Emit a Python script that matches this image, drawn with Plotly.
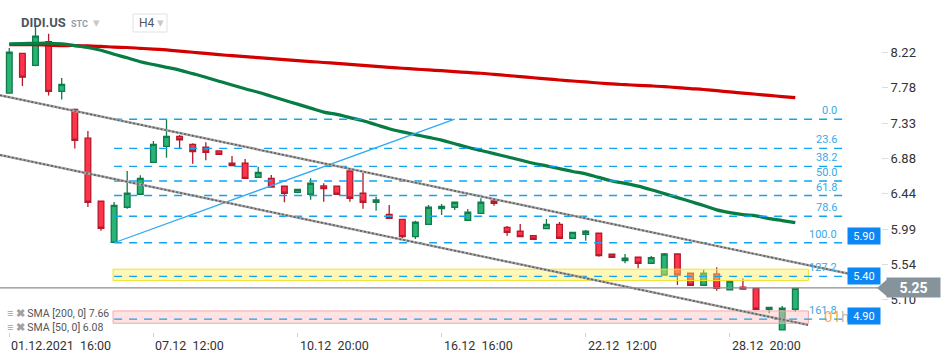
import plotly.graph_objects as go

# ---------------- data ----------------
days3 = ["02.12", "03.12", "06.12", "07.12", "08.12", "09.12", "10.12", "13.12", "14.12",
         "15.12", "16.12", "17.12", "20.12", "21.12", "22.12", "23.12", "27.12", "28.12", "29.12"]
times = ["01.12 16:00", "01.12 20:00"] + [f"{d} {h}" for d in days3 for h in ("12:00", "16:00", "20:00")] + ["30.12 12:00", "30.12 16:00"]

opens = [7.71, 8.21, 8.06, 8.36, 7.73, 7.505, 7.14, 6.344, 5.826, 6.268,
         6.432, 6.836, 7.038, 7.164, 7.063, 7.026, 6.979, 6.824, 6.824, 6.647,
         6.634, 6.533, 6.457, 6.432, 6.537, 6.533, 6.726, 6.445, 6.331, 6.179,
         6.116, 5.897, 6.053, 6.25, 6.268, 6.104, 6.192, 6.347, 6.015, 5.965,
         5.909, 5.998, 6.053, 5.877, 5.927, 5.94, 5.675, 5.594, 5.637, 5.561,
         5.413, 5.678, 5.435, 5.283, 5.426, 5.224, 5.258, 5.245, 4.98, 4.719, 4.98]
highs = [8.28, 8.22, 8.56, 8.46, 7.90, 7.515, 7.23, 6.35, 6.335, 6.726,
         6.672, 7.105, 7.379, 7.18, 7.076, 7.089, 6.98, 6.916, 6.878, 6.78,
         6.676, 6.54, 6.503, 6.634, 6.571, 6.535, 6.73, 6.705, 6.402, 6.297,
         6.12, 6.099, 6.297, 6.31, 6.335, 6.247, 6.382, 6.382, 6.032, 6.057,
         5.91, 6.12, 6.082, 5.952, 5.981, 5.942, 5.677, 5.678, 5.64, 5.653,
         5.691, 5.68, 5.44, 5.476, 5.51, 5.337, 5.37, 5.25, 5.01, 5.022, 5.25]
lows = [7.70, 7.80, 8.05, 7.68, 7.63, 7.01, 6.27, 5.97, 5.82, 6.25,
        6.43, 6.83, 6.894, 7.013, 6.818, 6.861, 6.935, 6.79, 6.63, 6.645,
        6.52, 6.331, 6.445, 6.364, 6.339, 6.43, 6.339, 6.25, 6.225, 6.125,
        5.877, 5.868, 6.05, 6.171, 6.234, 6.10, 6.19, 6.288, 5.909, 5.889,
        5.862, 5.995, 5.875, 5.875, 5.846, 5.644, 5.635, 5.561, 5.498, 5.56,
        5.41, 5.287, 5.28, 5.28, 5.215, 5.222, 5.235, 4.971, 4.929, 4.715, 4.95]
closes = [8.225, 7.91, 8.43, 7.73, 7.82, 7.114, 6.331, 6.003, 6.293, 6.445,
          6.634, 7.063, 7.164, 7.12, 6.97, 6.962, 6.937, 6.793, 6.634, 6.709,
          6.524, 6.445, 6.495, 6.571, 6.503, 6.432, 6.382, 6.331, 6.36, 6.129,
          5.897, 6.079, 6.268, 6.28, 6.331, 6.205, 6.331, 6.318, 5.952, 5.897,
          5.864, 6.053, 5.877, 5.952, 5.965, 5.657, 5.637, 5.624, 5.561, 5.632,
          5.678, 5.413, 5.283, 5.435, 5.245, 5.337, 5.236, 4.98, 5.005, 4.993, 5.245]

sma200 = [8.32, 8.32, 8.32, 8.315, 8.31, 8.31, 8.305, 8.30, 8.29, 8.285,
          8.275, 8.265, 8.254, 8.24, 8.225, 8.21, 8.195, 8.182, 8.17, 8.158,
          8.145, 8.133, 8.12, 8.108, 8.096, 8.084, 8.072, 8.06, 8.047, 8.035,
          8.023, 8.013, 8.002, 7.992, 7.981, 7.97, 7.96, 7.946, 7.932, 7.918,
          7.903, 7.889, 7.875, 7.862, 7.85, 7.837, 7.825, 7.816, 7.808, 7.80,
          7.791, 7.779, 7.767, 7.755, 7.74, 7.724, 7.709, 7.695, 7.68, 7.666, 7.652]
sma50 = [8.33, 8.335, 8.338, 8.339, 8.33, 8.31, 8.285, 8.25, 8.20, 8.155,
         8.106, 8.07, 8.035, 8.0, 7.955, 7.91, 7.86, 7.812, 7.765, 7.72,
         7.67, 7.62, 7.57, 7.52, 7.47, 7.44, 7.40, 7.36, 7.31, 7.26,
         7.22, 7.185, 7.15, 7.115, 7.07, 7.025, 6.985, 6.945, 6.905, 6.865,
         6.824, 6.79, 6.755, 6.72, 6.69, 6.645, 6.60, 6.57, 6.535, 6.49,
         6.44, 6.39, 6.34, 6.29, 6.235, 6.20, 6.175, 6.16, 6.125, 6.10, 6.075]

tick_idx = [0, 11, 22, 33, 44, 55]
tick_text = ["01.12.2021\u00a0\u00a016:00", "07.12\u00a0\u00a012:00", "10.12\u00a0\u00a020:00",
             "16.12\u00a0\u00a016:00", "22.12\u00a0\u00a012:00", "28.12\u00a0\u00a020:00"]
y_ticks = [8.22, 7.78, 7.33, 6.88, 6.44, 5.99, 5.54, 5.10, 4.65]

fib_ratios = [0.0, 23.6, 38.2, 50.0, 61.8, 78.6, 100.0, 127.2, 161.8]
fib_high, fib_low = 7.38, 5.82
fib_start, fib_end = 8, 63.6
trend = ([8, 34], [5.82, 7.38])
chan_upper = ([-0.71, 64.2], [7.682, 5.425])
chan_lower = ([-0.71, 60.97], [6.928, 4.782])
zone_yellow = (5.342, 5.486)
zone_pink = (4.803, 4.959)
zones_x = (7.92, 61.0)
level_boxes = [5.90, 5.40, 4.90]
last_price = 5.25
sma_legend = ["SMA [200, 0] 7.66", "SMA [50, 0] 6.08"]

# ---------------- layout geometry ----------------
W, H = 950, 361
ML, MR, MT, MB = 0, 69, 0, 29
PW, PH = W - ML - MR, H - MT - MB
YR = [4.693, 8.885]
XR = [-0.71, 66.54]


def pxx(x):
    return (x - ML) / PW


def pxy(y):
    return (H - MB - y) / PH


def vy(v):
    return (v - YR[0]) / (YR[1] - YR[0])


x_idx = list(range(len(times)))
fig = go.Figure()
fig.add_trace(go.Scatter(x=x_idx, y=sma200, mode="lines", line=dict(color="#d40000", width=3.2, shape="spline"), hoverinfo="skip"))
fig.add_trace(go.Scatter(x=x_idx, y=sma50, mode="lines", line=dict(color="#077c45", width=3.2, shape="spline"), hoverinfo="skip"))
fig.add_trace(go.Candlestick(
    x=x_idx, open=opens, high=highs, low=lows, close=closes,
    increasing=dict(fillcolor="#27b474", line=dict(color="#137a4b", width=1.3)),
    decreasing=dict(fillcolor="#ff3349", line=dict(color="#b5192c", width=1.3)),
    whiskerwidth=0, hoverinfo="skip"))

shapes = []
for (y0, y1), fc, lc in [(zone_yellow, "rgba(255,238,90,0.45)", "#f2e22a"),
                         (zone_pink, "rgba(255,190,190,0.45)", "#f4a9a9")]:
    shapes.append(dict(type="rect", xref="x", yref="y", x0=zones_x[0], x1=zones_x[1], y0=y0, y1=y1,
                       fillcolor=fc, line=dict(color=lc, width=1), layer="above"))
fib_vals = [fib_high - r / 100.0 * (fib_high - fib_low) for r in fib_ratios]
for v in fib_vals:
    shapes.append(dict(type="line", xref="x", yref="y", x0=fib_start, x1=fib_end, y0=v, y1=v,
                       line=dict(color="#12a4f0", width=1.4, dash="8px,7px"), layer="above"))
shapes.append(dict(type="line", xref="x", yref="y", x0=trend[0][0], x1=trend[0][1], y0=trend[1][0], y1=trend[1][1],
                   line=dict(color="#2eaaf5", width=1.3), layer="above"))
for cx, cy in [chan_upper, chan_lower]:
    shapes.append(dict(type="line", xref="x", yref="y", x0=cx[0], x1=cx[1], y0=cy[0], y1=cy[1],
                       line=dict(color="#a8a8a8", width=2.4), layer="above"))
    shapes.append(dict(type="line", xref="x", yref="y", x0=cx[0], x1=cx[1], y0=cy[0], y1=cy[1],
                       line=dict(color="#5e5e5e", width=1.6, dash="2px,2px"), layer="above"))
shapes.append(dict(type="line", xref="paper", yref="y", x0=0, x1=pxx(878), y0=last_price, y1=last_price,
                   line=dict(color="#8d8d8d", width=1.2), layer="above"))
yc = vy(last_price)
hh = 8.5 / PH
shapes.append(dict(type="path", xref="paper", yref="paper",
                   path=f"M {pxx(877)} {yc} L {pxx(887)} {yc + hh} L {pxx(887)} {yc - hh} Z",
                   fillcolor="#87939a", line=dict(width=0), layer="above"))
shapes.append(dict(type="rect", xref="paper", yref="paper", x0=pxx(133), x1=pxx(167), y0=pxy(32), y1=pxy(14),
                   line=dict(color="#e2e2e2", width=1), fillcolor="rgba(0,0,0,0)", layer="above"))

ann = []
fnt = "Roboto, Arial, sans-serif"
for i, t in zip(tick_idx, tick_text):
    ann.append(dict(x=i, y=0, xref="x", yref="paper", text=t, showarrow=False, xanchor="left", yanchor="top",
                    xshift=0, yshift=-4, font=dict(family=fnt, size=12.5, color="#333333")))
for r, v in zip(fib_ratios, fib_vals):
    ann.append(dict(x=63.3, y=v, xref="x", yref="y", text=f"{r:.1f}", showarrow=False,
                    xanchor="right", yanchor="bottom", yshift=0,
                    font=dict(family=fnt, size=11, color="#3aa8e6")))
ann.append(dict(x=pxx(822), y=pxy(317), xref="paper", yref="paper", showarrow=False, xanchor="left", yanchor="middle",
                text="<span style='color:#ff9a2e'>01</span><span style='color:#b0b0b0'>h</span>",
                font=dict(family=fnt, size=15), opacity=0.85))
for v in level_boxes:
    ann.append(dict(x=1, y=v, xref="paper", yref="y", text=f"{v:.2f}", showarrow=False,
                    xanchor="right", yanchor="middle", width=30, height=14, bgcolor="#0b86f5",
                    font=dict(family=fnt, size=11, color="white")))
ann.append(dict(x=pxx(886), y=last_price, xref="paper", yref="y", text=f"<b>{last_price:.2f}</b>", showarrow=False,
                xanchor="left", yanchor="middle", width=51, height=17, bgcolor="#87939a",
                font=dict(family=fnt, size=14, color="white")))
ann.append(dict(x=pxx(19), y=pxy(23), xref="paper", yref="paper", text="<b>DIDI.US</b>", showarrow=False,
                xanchor="left", yanchor="middle", font=dict(family=fnt, size=13, color="#4b5560")))
ann.append(dict(x=pxx(69), y=pxy(24), xref="paper", yref="paper", text="<b>STC</b>", showarrow=False,
                xanchor="left", yanchor="middle", font=dict(family=fnt, size=9, color="#8fa0b0")))
ann.append(dict(x=pxx(91), y=pxy(23), xref="paper", yref="paper", text="▾", showarrow=False,
                xanchor="left", yanchor="middle", font=dict(family=fnt, size=13, color="#c8c8c8")))
ann.append(dict(x=pxx(137), y=pxy(23), xref="paper", yref="paper", text="H4", showarrow=False,
                xanchor="left", yanchor="middle", font=dict(family=fnt, size=12, color="#555555")))
ann.append(dict(x=pxx(155), y=pxy(23), xref="paper", yref="paper", text="▾", showarrow=False,
                xanchor="left", yanchor="middle", font=dict(family=fnt, size=13, color="#c8c8c8")))
for i, t in enumerate(sma_legend):
    ann.append(dict(x=pxx(5), y=pxy(313 + 14.5 * i), xref="paper", yref="paper", showarrow=False,
                    xanchor="left", yanchor="middle",
                    text=f"<span style='color:#a0a0a0'><b>≡ ✖</b></span> <span style='color:#555'>{t}</span>",
                    font=dict(family=fnt, size=10.5)))

fig.update_layout(
    width=W, height=H, margin=dict(l=ML, r=MR, t=MT, b=MB),
    paper_bgcolor="white", plot_bgcolor="white", showlegend=False,
    boxgap=0.38, shapes=shapes, annotations=ann,
    font=dict(family=fnt),
    xaxis=dict(range=XR, tickvals=tick_idx, ticks="outside", ticklen=4, showticklabels=False,
               tickcolor="#d0d0d0", showgrid=False, zeroline=False, showline=False,
               rangeslider=dict(visible=False)),
    yaxis=dict(range=YR, side="right", tickvals=y_ticks, ticktext=[f"{v:.2f}" for v in y_ticks],
               ticks="outside", ticklen=6, tickcolor="#dddddd", showgrid=False, zeroline=False,
               showline=False, tickfont=dict(family=fnt, size=13, color="#333333")),
)
fig.write_html("out.html", config={"displayModeBar": False},
               post_script="document.body.style.margin='0';document.body.style.overflow='hidden';")
